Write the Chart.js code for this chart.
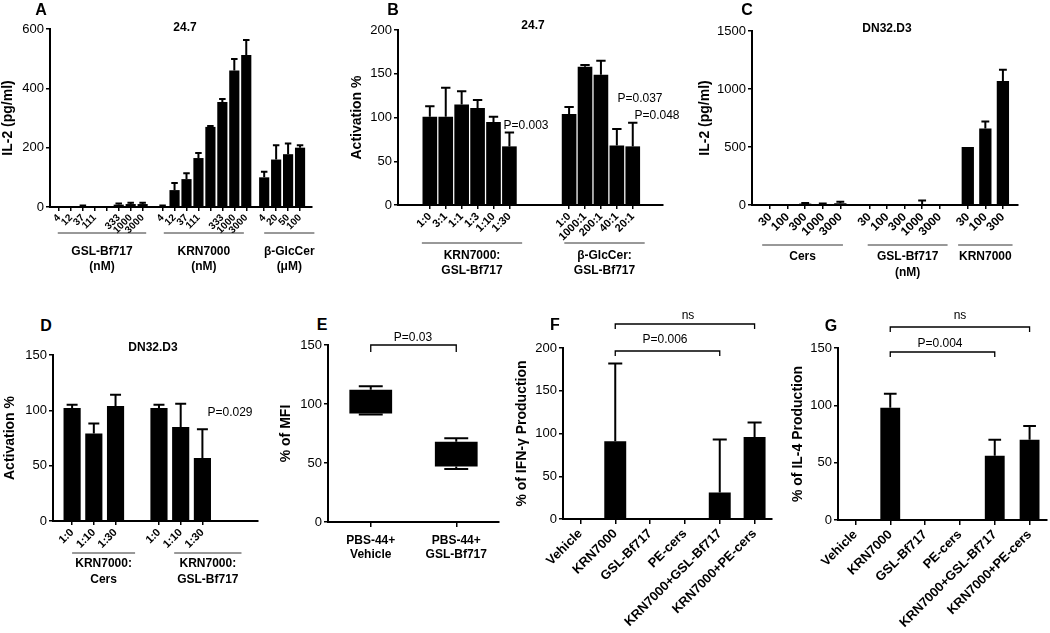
<!DOCTYPE html>
<html lang="en">
<head>
<meta charset="UTF-8">
<title>GSL-Bf717 / KRN7000 activation panels</title>
<script src="https://cdn.jsdelivr.net/npm/chart.js"></script>
<style>
    body { margin: 0; background: #fff; font-family: 'Liberation Sans', Arial, Helvetica, sans-serif; }
    #fig { position: relative; width: 1050px; height: 633px; overflow: hidden; background: #fff; }
    #fig canvas { position: absolute; }
    .note { position: absolute; transform: translate(-50%, -50%); line-height: 1; white-space: nowrap; color: #000; }
</style>
</head>
<body>
<div id="fig"></div>
<script>
// ---- A: 24.7, IL-2 (pg/ml)
const aGslDoses = ['4', '12', '37', '111', '', '333', '1000', '3000'];
const aGslIL2   = [0, 0, 3, 0, 0, 8, 10, 10];
const aGslErr   = [0, 0, 2, 0, 0, 4, 4, 4];
const aKrnDoses = ['4', '12', '37', '111', '', '333', '1000', '3000'];
const aKrnIL2   = [3, 57, 94, 165, 270, 354, 460, 512];
const aKrnErr   = [2, 24, 20, 17, 3, 10, 39, 51];
const aGlcDoses = ['4', '20', '50', '100'];
const aGlcIL2   = [100, 160, 178, 200];
const aGlcErr   = [19, 48, 36, 8];

// ---- B: 24.7, activation %
const bKrnRatios = ['1:0', '3:1', '1:1', '1:3', '1:10', '1:30'];
const bKrnAct    = [101, 101, 115, 111, 95, 67];
const bKrnErr    = [12, 33, 15, 9, 6, 16];
const bGlcRatios = ['1:0', '1000:1', '200:1', '40:1', '20:1'];
const bGlcAct    = [104, 158, 149, 68, 67];
const bGlcErr    = [8, 2, 16, 19, 27];

// ---- C: DN32.D3, IL-2 (pg/ml)
const cCersDoses = ['30', '100', '300', '1000', '3000'];
const cCersIL2   = [3, 3, 12, 8, 15];
const cCersErr   = [0, 0, 6, 5, 12];
const cGslDoses  = ['30', '100', '300', '1000', '3000'];
const cGslIL2    = [2, 2, 0, 6, 2];
const cGslErr    = [0, 0, 0, 32, 0];
const cKrnDoses  = ['30', '100', '300'];
const cKrnIL2    = [500, 660, 1070];
const cKrnErr    = [0, 60, 95];

// ---- D: DN32.D3, activation %
const dRatios  = ['1:0', '1:10', '1:30'];
const dCersAct = [102, 79, 104];
const dCersErr = [3, 9, 10];
const dGslAct  = [102, 85, 57];
const dGslErr  = [3, 21, 26];

// ---- E: % of MFI (box: low/high, whiskers: min/max)
const eGroups  = [['PBS-44+', 'Vehicle'], ['PBS-44+', 'GSL-Bf717']];
const eBoxLow  = [92, 47];
const eBoxHigh = [112, 68];
const eMin     = [91, 45];
const eMax     = [115, 71];

// ---- F / G: cytokine production
const treatments = ['Vehicle', 'KRN7000', 'GSL-Bf717', 'PE-cers', 'KRN7000+GSL-Bf717', 'KRN7000+PE-cers'];
const fIfng    = [0, 91, 0, 0, 31, 96];
const fIfngErr = [0, 91, 0, 0, 62, 17];
const gIl4     = [0, 98, 0, 0, 56, 70];
const gIl4Err  = [0, 12, 0, 0, 14, 12];

const FONT = "'Liberation Sans', Arial, Helvetica, sans-serif";
Chart.defaults.font.family = FONT;
Chart.defaults.color = '#000';
const fig = document.getElementById('fig');

// upward error bars with a cap, Prism style
const errorBars = {
    id: 'errorBars',
    afterDatasetsDraw(chart) {
        const ctx = chart.ctx, y = chart.scales.y;
        chart.data.datasets.forEach((ds, di) => {
            if (!ds.errors) return;
            chart.getDatasetMeta(di).data.forEach((bar, i) => {
                const e = ds.errors[i];
                if (!e) return;
                const d = ds.data[i];
                const v = typeof d === 'object' ? d.y : d;
                const top = y.getPixelForValue(v + e);
                const cap = bar.width * 0.32;
                ctx.save();
                ctx.strokeStyle = '#000';
                ctx.lineWidth = 2;
                ctx.beginPath();
                ctx.moveTo(bar.x, bar.y);
                ctx.lineTo(bar.x, top);
                ctx.moveTo(bar.x - cap, top);
                ctx.lineTo(bar.x + cap, top);
                ctx.stroke();
                ctx.restore();
            });
        });
    }
};

function makeChart(p, config) {
    const c = document.createElement('canvas');
    const w = p.L + (p.x1 - p.x0) + p.R;
    const h = p.T + (p.y1 - p.y0) + p.B;
    c.width = w; c.height = h;
    c.style.width = w + 'px'; c.style.height = h + 'px';
    c.style.left = (p.x0 - p.L) + 'px';
    c.style.top = (p.y0 - p.T) + 'px';
    fig.appendChild(c);
    return new Chart(c, config);
}

function yAxis(p) {
    return {
        min: 0, max: p.yMax,
        ticks: { stepSize: p.yStep, padding: 2, font: { size: 13 }, color: '#000', callback: v => String(v) },
        grid: { drawOnChartArea: false, tickLength: 4, color: '#000', lineWidth: 1.5 },
        border: { color: '#000', width: 2 },
        title: { display: true, text: p.yTitle, font: { size: 14, weight: 'bold' }, color: '#000', padding: 0 },
        afterFit: s => { s.width = p.L; }
    };
}

function baseOptions(p, xScale) {
    return {
        responsive: false, animation: false, events: [], devicePixelRatio: 1,
        layout: { padding: { left: 0, top: p.T, right: p.R, bottom: 0 } },
        plugins: { legend: { display: false }, tooltip: { enabled: false } },
        scales: { x: xScale, y: yAxis(p) }
    };
}

// underline + name for each group of bars
function groupPlugin(p, xs, spans) {
    return {
        id: 'groups',
        afterDraw(chart) {
            const ctx = chart.ctx, sx = chart.scales.x, base = chart.chartArea.bottom;
            ctx.save();
            ctx.strokeStyle = '#333';
            ctx.lineWidth = 1;
            ctx.fillStyle = '#000';
            ctx.font = 'bold 12px ' + FONT;
            ctx.textAlign = 'center';
            ctx.textBaseline = 'middle';
            spans.forEach(g => {
                const a = sx.getPixelForValue(xs[g.first] + g.ext[0]);
                const b = sx.getPixelForValue(xs[g.last] + g.ext[1]);
                ctx.beginPath();
                ctx.moveTo(a, base + p.gLine);
                ctx.lineTo(b, base + p.gLine);
                ctx.stroke();
                g.text.forEach((t, k) => ctx.fillText(t, (a + b) / 2, base + p.gText[k]));
            });
            ctx.restore();
        }
    };
}

function groupedPanel(p, sets) {
    const xs = [], labels = [], values = [], errors = [], spans = [];
    let x = 0;
    sets.forEach((s, g) => {
        if (g) x += p.gaps[g - 1] - 1;
        const first = xs.length;
        s.labels.forEach((lab, i) => {
            xs.push(x); x += 1;
            labels.push(lab); values.push(s.values[i]); errors.push(s.errors[i]);
        });
        spans.push({ first, last: xs.length - 1, ext: s.ext, text: s.text });
    });
    const xScale = {
        type: 'linear', offset: false,
        min: xs[0] - p.lead, max: xs[xs.length - 1] + p.trail,
        afterBuildTicks: s => { s.ticks = xs.map(v => ({ value: v })); },
        ticks: { autoSkip: false, minRotation: 45, maxRotation: 45, padding: 1,
                 font: { size: p.xFont, weight: 'bold' }, color: '#000',
                 callback: (v, i) => labels[i] },
        grid: { drawOnChartArea: false, offset: false, tickLength: 4, color: '#000', lineWidth: 1.5 },
        border: { color: '#000', width: 2 },
        afterFit: s => { s.height = p.B; }
    };
    return makeChart(p, {
        type: 'bar',
        data: { datasets: [{
            data: xs.map((v, i) => ({ x: v, y: values[i] })),
            errors, backgroundColor: '#000',
            barPercentage: p.barPct, categoryPercentage: 1
        }] },
        options: baseOptions(p, xScale),
        plugins: [errorBars, groupPlugin(p, xs, spans)]
    });
}

function bracketPlugin(list) {
    return {
        id: 'brackets',
        afterDraw(chart) {
            const ctx = chart.ctx, sx = chart.scales.x, top = chart.chartArea.top;
            ctx.save();
            ctx.strokeStyle = '#000';
            ctx.lineWidth = 1.3;
            list.forEach(b => {
                const a = sx.getPixelForValue(b.from), c = sx.getPixelForValue(b.to), y = top + b.dy;
                ctx.beginPath();
                ctx.moveTo(a, y + b.leg); ctx.lineTo(a, y); ctx.lineTo(c, y); ctx.lineTo(c, y + b.leg);
                ctx.stroke();
            });
            ctx.restore();
        }
    };
}

function categoryPanel(p, labels, values, errors, brackets) {
    const xScale = {
        type: 'category', offset: true,
        ticks: { autoSkip: false, minRotation: 45, maxRotation: 45, padding: 2,
                 font: { size: 13, weight: 'bold' }, color: '#000' },
        grid: { drawOnChartArea: false, offset: false, tickLength: 5, color: '#000', lineWidth: 1.5 },
        border: { color: '#000', width: 2 },
        afterFit: s => { s.height = p.B; }
    };
    return makeChart(p, {
        type: 'bar',
        data: { labels, datasets: [{ data: values, errors, backgroundColor: '#000', barPercentage: p.barPct, categoryPercentage: 1 }] },
        options: baseOptions(p, xScale),
        plugins: [errorBars, bracketPlugin(brackets)]
    });
}

// ---- A
groupedPanel({ x0: 50, x1: 312, y0: 29, y1: 207, L: 50, T: 12, R: 12, B: 70,
               yMax: 600, yStep: 200, yTitle: 'IL-2 (pg/ml)', xFont: 10, barPct: 0.85,
               lead: 0.75, trail: 1.0, gaps: [1.67, 1.5], gLine: 26, gText: [45, 60] }, [
    { labels: aGslDoses, values: aGslIL2, errors: aGslErr, ext: [-0.1, 0.3], text: ['GSL-Bf717', '(nM)'] },
    { labels: aKrnDoses, values: aKrnIL2, errors: aKrnErr, ext: [0.1, -0.2], text: ['KRN7000', '(nM)'] },
    { labels: aGlcDoses, values: aGlcIL2, errors: aGlcErr, ext: [0, 1.2], text: ['β-GlcCer', '(μM)'] }
]);

// ---- B
groupedPanel({ x0: 398, x1: 663, y0: 30, y1: 205, L: 49, T: 12, R: 12, B: 72,
               yMax: 200, yStep: 50, yTitle: 'Activation %', xFont: 11, barPct: 0.92,
               lead: 2, trail: 1.9, gaps: [3.75], gLine: 38, gText: [51, 66] }, [
    { labels: bKrnRatios, values: bKrnAct, errors: bKrnErr, ext: [-0.5, 0.8], text: ['KRN7000:', 'GSL-Bf717'] },
    { labels: bGlcRatios, values: bGlcAct, errors: bGlcErr, ext: [-0.3, 0.75], text: ['β-GlcCer:', 'GSL-Bf717'] }
]);

// ---- C
groupedPanel({ x0: 752, x1: 1018, y0: 31, y1: 205, L: 55, T: 12, R: 12, B: 75,
               yMax: 1500, yStep: 500, yTitle: 'IL-2 (pg/ml)', xFont: 12, barPct: 0.7,
               lead: 1.03, trail: 0.86, gaps: [1.66, 1.6], gLine: 40, gText: [52, 68] }, [
    { labels: cCersDoses, values: cCersIL2, errors: cCersErr, ext: [-0.45, 0.15], text: ['Cers'] },
    { labels: cGslDoses, values: cGslIL2, errors: cGslErr, ext: [-0.1, 0.45], text: ['GSL-Bf717', '(nM)'] },
    { labels: cKrnDoses, values: cKrnIL2, errors: cKrnErr, ext: [-0.55, 0.55], text: ['KRN7000'] }
]);

// ---- D
groupedPanel({ x0: 53, x1: 258, y0: 355, y1: 521, L: 51, T: 12, R: 12, B: 66,
               yMax: 150, yStep: 50, yTitle: 'Activation %', xFont: 11, barPct: 0.79,
               lead: 0.88, trail: 2.56, gaps: [2], gLine: 32, gText: [43, 59] }, [
    { labels: dRatios, values: dCersAct, errors: dCersErr, ext: [0, 0.9], text: ['KRN7000:', 'Cers'] },
    { labels: dRatios, values: dGslAct, errors: dGslErr, ext: [0.7, 1.8], text: ['KRN7000:', 'GSL-Bf717'] }
]);

// ---- E (box plot from floating bars + whiskers)
(function () {
    const p = { x0: 328, x1: 499, y0: 345, y1: 522, L: 50, T: 12, R: 12, B: 45,
                yMax: 150, yStep: 50, yTitle: '% of MFI' };
    const whiskers = {
        id: 'whiskers',
        afterDatasetsDraw(chart) {
            const ctx = chart.ctx, y = chart.scales.y;
            ctx.save();
            ctx.strokeStyle = '#000';
            ctx.lineWidth = 2;
            chart.getDatasetMeta(0).data.forEach((bar, i) => {
                const half = bar.width * 0.28;
                const hi = y.getPixelForValue(eBoxHigh[i]), lo = y.getPixelForValue(eBoxLow[i]);
                const top = y.getPixelForValue(eMax[i]), bot = y.getPixelForValue(eMin[i]);
                ctx.beginPath();
                ctx.moveTo(bar.x, hi); ctx.lineTo(bar.x, top);
                ctx.moveTo(bar.x - half, top); ctx.lineTo(bar.x + half, top);
                ctx.moveTo(bar.x, lo); ctx.lineTo(bar.x, bot);
                ctx.moveTo(bar.x - half, bot); ctx.lineTo(bar.x + half, bot);
                ctx.stroke();
            });
            ctx.restore();
        }
    };
    const xScale = {
        type: 'category', offset: true,
        ticks: { autoSkip: false, minRotation: 0, maxRotation: 0, padding: 6,
                 font: { size: 12, weight: 'bold' }, color: '#000' },
        grid: { drawOnChartArea: false, offset: false, tickLength: 5, color: '#000', lineWidth: 1.5 },
        border: { color: '#000', width: 2 },
        afterFit: s => { s.height = p.B; }
    };
    makeChart(p, {
        type: 'bar',
        data: { labels: eGroups, datasets: [{
            data: eBoxLow.map((lo, i) => [lo, eBoxHigh[i]]),
            backgroundColor: '#000', barPercentage: 0.5, categoryPercentage: 1
        }] },
        options: baseOptions(p, xScale),
        plugins: [whiskers, bracketPlugin([{ from: 0, to: 1, dy: 0, leg: 7 }])]
    });
})();

// ---- F
categoryPanel({ x0: 563, x1: 772, y0: 348, y1: 519, L: 49, T: 30, R: 12, B: 110,
                yMax: 200, yStep: 50, yTitle: '% of IFN-γ Production', barPct: 0.63 },
              treatments, fIfng, fIfngErr,
              [{ from: 1, to: 5, dy: -24, leg: 5 }, { from: 1, to: 4, dy: 3, leg: 5 }]);

// ---- G
categoryPanel({ x0: 838, x1: 1047, y0: 348, y1: 520, L: 48, T: 30, R: 12, B: 110,
                yMax: 150, yStep: 50, yTitle: '% of IL-4 Production', barPct: 0.57 },
              treatments, gIl4, gIl4Err,
              [{ from: 1, to: 5, dy: -21, leg: 5 }, { from: 1, to: 4, dy: 4, leg: 5 }]);

// ---- text on top: panel letters, titles, p-values
function note(text, x, y, size, bold) {
    const d = document.createElement('div');
    d.className = 'note';
    d.textContent = text;
    d.style.left = x + 'px';
    d.style.top = y + 'px';
    d.style.fontSize = size + 'px';
    if (bold) d.style.fontWeight = 'bold';
    fig.appendChild(d);
}

note('A', 41, 10, 16, true);
note('B', 393, 10, 16, true);
note('C', 747, 10, 16, true);
note('D', 46, 326, 16, true);
note('E', 322, 325, 16, true);
note('F', 555, 325, 16, true);
note('G', 831, 326, 16, true);

note('24.7', 185, 27, 12, true);
note('24.7', 533, 25, 12, true);
note('DN32.D3', 887, 28, 12, true);
note('DN32.D3', 153, 347, 12, true);

note('P=0.003', 526, 125, 12, false);
note('P=0.037', 640, 98, 12, false);
note('P=0.048', 657, 115, 12, false);
note('P=0.029', 230, 412, 12, false);
note('P=0.03', 413, 337, 12, false);
note('ns', 688, 315, 12, false);
note('P=0.006', 665, 339, 12, false);
note('ns', 960, 315, 12, false);
note('P=0.004', 940, 343, 12, false);
</script>
</body>
</html>
